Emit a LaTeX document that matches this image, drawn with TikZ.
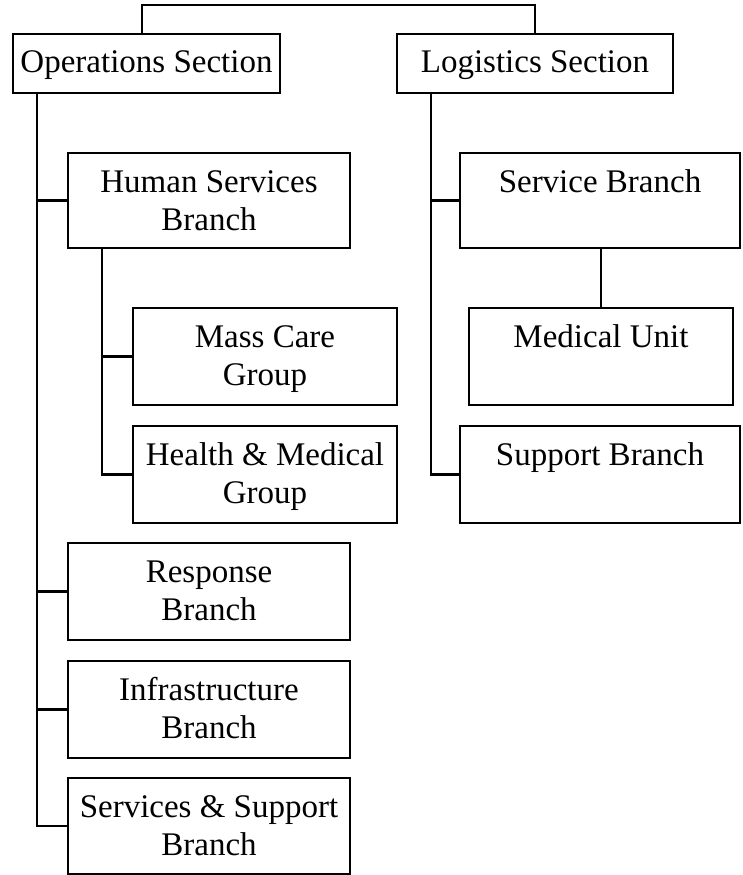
\documentclass[tikz,border=0pt]{standalone}
\usepackage{fontspec}
\setmainfont{Liberation Serif}
\newcommand{\boxtxt}[3]{\parbox[t][#2][t]{#1}{\centering\rule{0pt}{39pt}#3\par}}
\begin{document}
\begin{tikzpicture}[x=1pt,y=-1pt,
  box/.style={draw, line width=2.2pt, inner sep=0pt, outer sep=0pt, anchor=north west,
    font=\fontsize{33}{38}\selectfont},
  conn/.style={line width=2.2pt}]
\useasboundingbox (0,0) rectangle (742,875);
% boxes
\node[box] (ops) at (13,34) {\boxtxt{267pt}{59pt}{Operations Section}};
\node[box] (log) at (397,34) {\boxtxt{276pt}{59pt}{Logistics Section}};
\node[box] (hsb) at (68,153) {\boxtxt{282pt}{95pt}{Human Services\\Branch}};
\node[box] (svc) at (460,153) {\boxtxt{280pt}{95pt}{Service Branch}};
\node[box] (mass) at (133,308) {\boxtxt{264pt}{97pt}{Mass Care\\Group}};
\node[box] (hmg) at (133,426) {\boxtxt{264pt}{97pt}{Health \& Medical\\Group}};
\node[box] (med) at (469,308) {\boxtxt{264pt}{97pt}{Medical Unit}};
\node[box] (sup) at (460,426) {\boxtxt{280pt}{97pt}{Support Branch}};
\node[box] (resp) at (68,543) {\boxtxt{282pt}{97pt}{Response\\Branch}};
\node[box] (infra) at (68,661) {\boxtxt{282pt}{97pt}{Infrastructure\\Branch}};
\node[box] (ss) at (68,778) {\boxtxt{282pt}{96pt}{Services \& Support\\Branch}};
% coordinates
\coordinate (tl) at (142,5);
\coordinate (tr) at (535,5);
\coordinate (ot) at (37,0);
\coordinate (st) at (102,0);
\coordinate (lt) at (431,0);
% connectors
\draw[conn] (tl |- ops.north) -- (tl) -- (tr) -- (tr |- log.north);
\draw[conn] (ops.south -| ot) -- (ss.west -| ot) -- (ss.west);
\draw[conn] (hsb.west -| ot) -- (hsb.west);
\draw[conn] (resp.west -| ot) -- (resp.west);
\draw[conn] (infra.west -| ot) -- (infra.west);
\draw[conn] (hsb.south -| st) -- (hmg.west -| st) -- (hmg.west);
\draw[conn] (mass.west -| st) -- (mass.west);
\draw[conn] (log.south -| lt) -- (sup.west -| lt) -- (sup.west);
\draw[conn] (svc.west -| lt) -- (svc.west);
\draw[conn] (med.north) -- (med.north |- svc.south);
\end{tikzpicture}
\end{document}
